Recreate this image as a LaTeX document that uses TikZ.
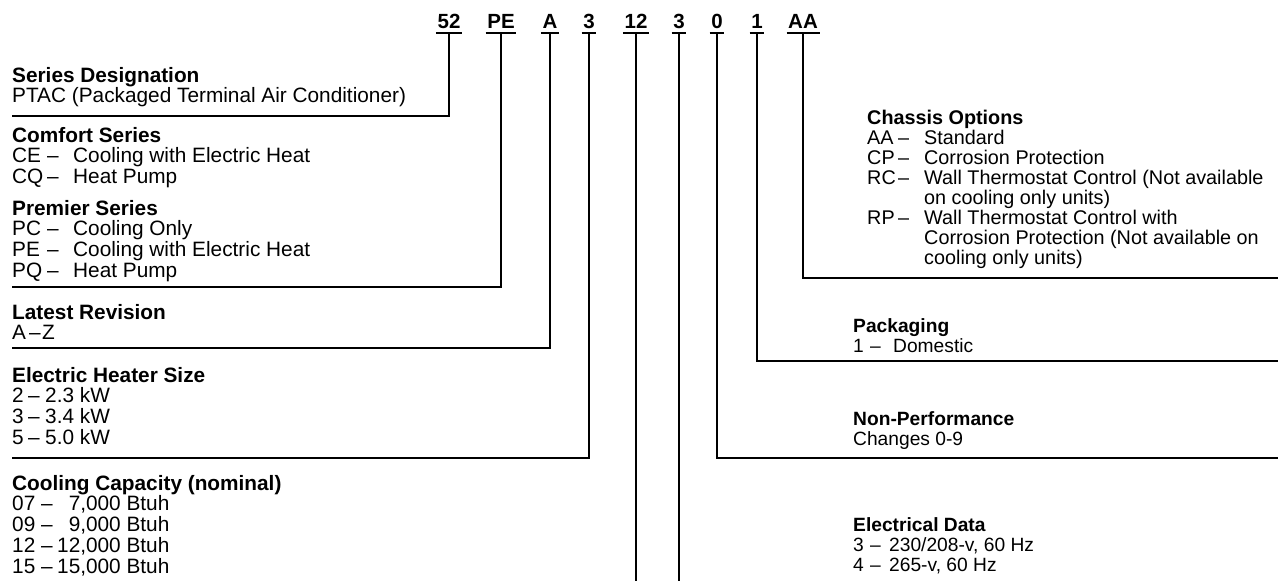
\documentclass[tikz,border=0pt]{standalone}
\usepackage{fontspec}
\setmainfont{Liberation Sans}
\usetikzlibrary{calc}
\newcommand{\blk}[1]{\begin{tabular}[t]{@{}l@{}}#1\end{tabular}}
\newcommand{\lent}[2]{\makebox[35pt][l]{#1}\makebox[26pt][l]{--}#2}
\newcommand{\rent}[2]{\makebox[31pt][l]{#1}\makebox[26pt][l]{--}#2}
\newcommand{\rind}{\hspace*{57pt}}
\begin{document}
\begin{tikzpicture}[x=1pt,y=-1pt,
  code/.style={font=\fontsize{20.5}{20}\selectfont\bfseries, anchor=base, inner sep=0},
  blk/.style={font=\fontsize{20.8}{19.6}\selectfont, anchor=base west, inner sep=0},
  rblk/.style={blk, font=\fontsize{19.8}{19.2}\selectfont},
  sblk/.style={blk, font=\fontsize{19.2}{20}\selectfont},
  lead/.style={line width=2pt, line join=miter},
  uline/.style={line width=2pt}]
\useasboundingbox (0,0) rectangle (1278,581);

% code letters
\node[code] (c52) at (449,28) {52};
\node[code] (cPE) at (501,28) {PE};
\node[code] (cA)  at (550,28) {A};
\node[code] (c3)  at (589,28) {3};
\node[code] (c12) at (636,28) {12};
\node[code] (c3b) at (679,28) {3};
\node[code] (c0)  at (717,28) {0};
\node[code] (c1)  at (757,28) {1};
\node[code] (cAA) at (803,28) {AA};

\foreach \n in {c52,cPE,cA,c3,c12,c3b,c0,c1,cAA}{
  \draw[uline] ($(\n.south west)+(-1.5,5)$) -- ($(\n.south east)+(1.5,5)$);
}

% end coordinates
\coordinate (e52) at (12,116);
\coordinate (ePE) at (12,287);
\coordinate (eA)  at (12,348);
\coordinate (e3)  at (12,458);
\coordinate (e12) at (636,581);
\coordinate (e3b) at (679,581);
\coordinate (e0)  at (1278,458);
\coordinate (e1)  at (1278,361);
\coordinate (eAA) at (1278,278);

\draw[lead] ($(c52.south)+(0,5)$) |- (e52);
\draw[lead] ($(cPE.south)+(0,5)$) |- (ePE);
\draw[lead] ($(cA.south)+(0,5)$) |- (eA);
\draw[lead] ($(c3.south)+(0,5)$) |- (e3);
\draw[lead] ($(c12.south)+(0,5)$) -- (e12);
\draw[lead] ($(c3b.south)+(0,5)$) -- (e3b);
\draw[lead] ($(c0.south)+(0,5)$) |- (e0);
\draw[lead] ($(c1.south)+(0,5)$) |- (e1);
\draw[lead] ($(cAA.south)+(0,5)$) |- (eAA);

% left blocks
\node[blk] (series) at (12,82) {\blk{\textbf{Series Designation}\\PTAC (Packaged Terminal Air Conditioner)}};
\node[blk] (comfort) at (12,142) {\blk{\textbf{Comfort Series}\\\lent{CE}{Cooling with Electric Heat}\\\lent{CQ}{Heat Pump}}};
\node[blk] (premier) at (12,215) {\blk{\textbf{Premier Series}\\\lent{PC}{Cooling Only}\\\lent{PE}{Cooling with Electric Heat}\\\lent{PQ}{Heat Pump}}};
\node[blk] (revision) at (12,319) {\blk{\textbf{Latest Revision}\\\makebox[17pt][l]{A}\makebox[13pt][l]{--}Z}};
\node[blk] (heater) at (12,382) {\blk{\textbf{Electric Heater Size}\\
  \makebox[16pt][l]{2}\makebox[17pt][l]{--}2.3 kW\\
  \makebox[16pt][l]{3}\makebox[17pt][l]{--}3.4 kW\\
  \makebox[16pt][l]{5}\makebox[17pt][l]{--}5.0 kW}};
\node[blk] (cooling) at (12,490) {\blk{\textbf{Cooling Capacity (nominal)}\\
  \makebox[29pt][l]{07}\makebox[16pt][l]{--}\phantom{1}7,000 Btuh\\
  \makebox[29pt][l]{09}\makebox[16pt][l]{--}\phantom{1}9,000 Btuh\\
  \makebox[29pt][l]{12}\makebox[16pt][l]{--}12,000 Btuh\\
  \makebox[29pt][l]{15}\makebox[16pt][l]{--}15,000 Btuh}};

% right blocks
\node[rblk] (chassis) at (867,124) {\blk{\textbf{Chassis Options}\\
  \rent{AA}{Standard}\\
  \rent{CP}{Corrosion Protection}\\
  \rent{RC}{Wall Thermostat Control (Not available}\\
  \rind on cooling only units)\\
  \rent{RP}{Wall Thermostat Control with}\\
  \rind Corrosion Protection (Not available on\\
  \rind cooling only units)}};
\node[sblk] (packaging) at (853,332) {\blk{\textbf{Packaging}\\\makebox[17pt][l]{1}\makebox[23pt][l]{--}Domestic}};
\node[sblk] (nonperf) at (853,425) {\blk{\textbf{Non-Performance}\\Changes 0-9}};
\node[sblk] (electrical) at (853,531) {\blk{\textbf{Electrical Data}\\
  \makebox[17pt][l]{3}\makebox[19pt][l]{--}230/208-v, 60 Hz\\
  \makebox[17pt][l]{4}\makebox[19pt][l]{--}265-v, 60 Hz}};
\end{tikzpicture}
\end{document}
